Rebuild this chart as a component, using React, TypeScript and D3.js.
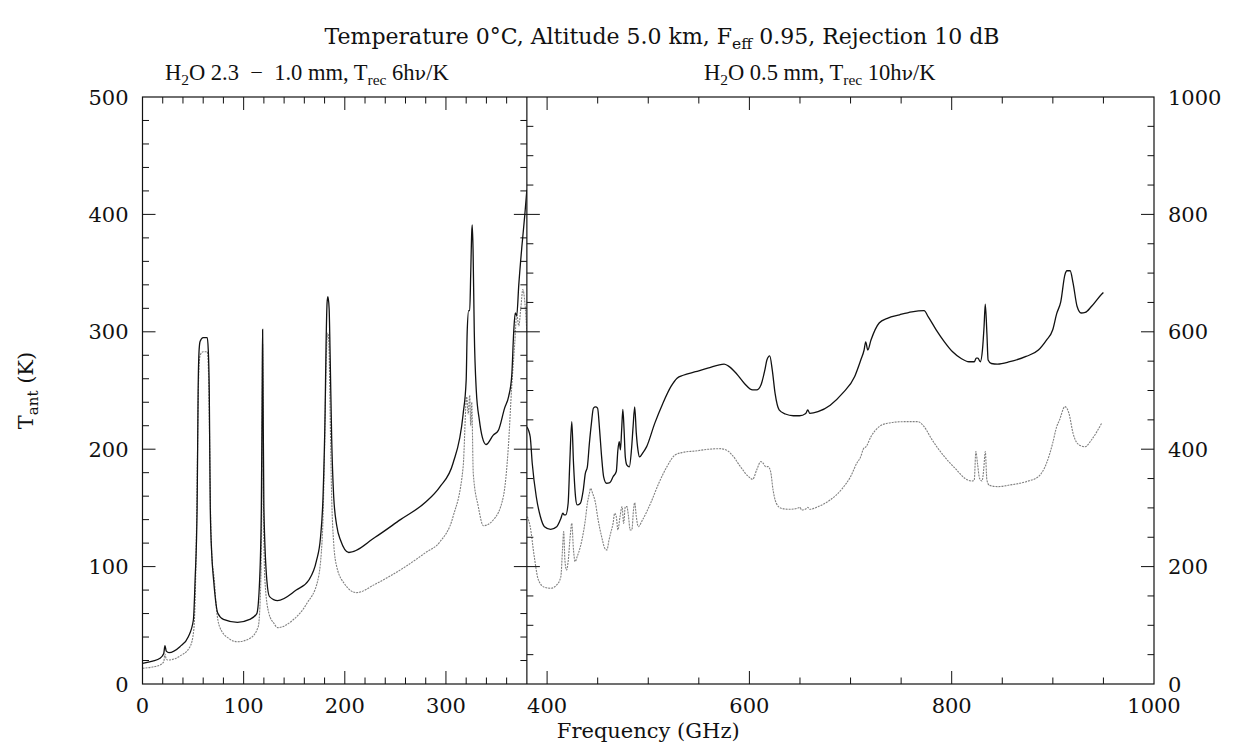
import React from 'react';
import * as d3 from 'd3';

type P = [number, number];

// Left panel (0-380 GHz), left axis units (K)
const leftUpper: P[] = [
  [0, 17.6], [10, 19.5], [17.3, 21.9], [21, 26], [22.2, 32.6], [23.5, 28], [26.2, 26.7], [37, 31.8], [45.3, 40.3],
  [50.3, 54.5], [52, 88.6], [54, 150], [55, 250], [56, 285], [57, 292], [60, 295], [64, 295], [65, 285], [66, 250],
  [67, 150], [68.5, 110], [70.3, 88.6], [74.5, 60.2], [80, 55], [93.9, 52.5], [106, 55], [113, 60], [115.8, 88.6],
  [117.5, 150], [118.4, 260], [118.75, 302], [119.1, 260], [120, 150], [122.9, 88.6], [125.6, 74.4], [133.5, 71],
  [152, 80], [164.5, 88.6], [172, 105], [176, 125], [178.5, 160], [180.5, 230], [181.5, 290], [182.5, 325],
  [183.3, 330], [184.5, 320], [185.5, 280], [187, 210], [189, 160], [192, 135], [196, 122], [204, 112], [230, 125],
  [255, 140], [280, 155], [294, 168], [307, 188], [317, 230], [320, 259], [321, 300], [322.5, 318], [323.5, 318],
  [324.5, 350], [325.5, 385], [326, 391], [326.8, 370], [328, 300], [330, 250], [333, 225], [336, 210], [339.6, 204],
  [346.8, 212], [351.8, 216], [358, 235], [362, 245], [365, 262], [367, 300], [368.5, 316], [370, 314], [372, 340],
  [375, 372], [378, 400], [380, 421]
];
const leftLower: P[] = [
  [0, 13.4], [10, 14.5], [17.3, 16.2], [21, 19], [22.2, 25.5], [23.5, 21], [25.5, 20.4], [37, 23.8], [47, 31.8],
  [50.7, 46], [52.5, 88.6], [54, 170], [55, 240], [56, 272], [57, 280], [60, 283], [64, 283], [65, 272], [66, 230],
  [67, 160], [68.5, 110], [71, 88.6], [73, 65], [76.2, 48.8], [85.1, 38.9], [94, 36], [106.3, 38.9], [114.4, 48.8],
  [117, 88.6], [118, 160], [118.75, 290], [119.5, 160], [121, 88.6], [125, 60], [129.9, 51.7], [133.5, 48],
  [148.7, 54.5], [162.6, 68.7], [173.4, 88.6], [178, 130], [180, 200], [181.5, 270], [182.5, 295], [183.3, 299],
  [184.3, 290], [185.5, 230], [187, 160], [189, 120], [192, 100], [200, 85], [211.5, 77.8], [230, 85], [260, 100],
  [280, 112], [294, 121], [307, 142.5], [317, 185], [320.5, 244.7], [322, 230], [323.5, 246], [324.5, 220],
  [325.5, 240], [327, 179.5], [332, 151], [337, 134.8], [346.8, 139.7], [356.7, 159.5], [361.6, 200.7], [365, 253],
  [368, 290], [370, 315], [372, 305], [374, 320], [376, 336], [378, 325], [380, 300]
];

// Right panel (380-950 GHz), right axis units (K)
const rightUpper: P[] = [
  [380, 438], [383.3, 421], [385.3, 376], [389.3, 319], [393.4, 285], [397.4, 268], [403.5, 263.5], [409.5, 268],
  [413.6, 282], [415.6, 291], [416.8, 288], [418.4, 288], [420.8, 308], [422.4, 376], [424.4, 447], [426.1, 376],
  [428.1, 319], [429.7, 305], [432.9, 308], [435.7, 330], [437.8, 359], [439.8, 370], [441.8, 410], [443.8, 444],
  [445.8, 470], [447.9, 472], [449.9, 470], [451.9, 433], [453.9, 387], [455.9, 353], [458.7, 342], [462, 343],
  [465.2, 353], [468.4, 362], [470, 399], [471.3, 413], [472.5, 399], [473.7, 433], [474.9, 468], [476.1, 433],
  [477.3, 387], [478.9, 373], [481.3, 370], [483.4, 399], [485, 438], [486.6, 472], [488.2, 427], [489.8, 399],
  [491.4, 387], [494.3, 393], [498.3, 404], [506.4, 444], [514.4, 478], [522.5, 507], [528.5, 521], [534.6, 526],
  [546.7, 532], [558.8, 538], [575, 545], [579, 542], [587.1, 529], [595.1, 512], [603.2, 501], [607.2, 501],
  [611.3, 509], [615.3, 535], [617.3, 552], [620.1, 559], [622.6, 535], [625.4, 495], [629.4, 467], [635.5, 460],
  [643.5, 457], [649.6, 457], [655.7, 461], [657.7, 467], [659.7, 461], [667.8, 464], [679.9, 475], [692, 495],
  [704.1, 524], [710.1, 552], [713.4, 569], [715, 583], [717, 569], [720.2, 586], [728.3, 615], [736.4, 623],
  [748.5, 629], [760.6, 634], [772.7, 636], [776.7, 626], [784.8, 603], [792.8, 583], [800.9, 566], [809, 555],
  [817.1, 549], [822.3, 549], [824.3, 555], [825.9, 555], [828.3, 549], [830.4, 569], [832, 609], [833.2, 647],
  [834.8, 597], [836, 552], [839.2, 546], [845.3, 545], [857.4, 549], [873.5, 558], [885.7, 569], [893.7, 586],
  [899.8, 603], [903.8, 631], [907.8, 651], [911.9, 697], [913.9, 704], [917.1, 704], [920, 683], [924, 643],
  [928, 632], [932, 633], [938.1, 643], [948.2, 664], [950, 667]
];
const rightLower: P[] = [
  [380.5, 285.1], [383.3, 268], [387.3, 217], [391.4, 177.2], [397.4, 164.7], [403.5, 163], [409.5, 168.7],
  [413.6, 182.9], [415.2, 228.3], [416.4, 259.5], [417.6, 211.3], [419.2, 194.2], [420.8, 208.4], [422.8, 251],
  [424.4, 273.7], [426.1, 228.3], [427.7, 208.4], [429.7, 217], [432.9, 234], [435.7, 256.7], [437.8, 279.4],
  [439.8, 307.8], [441.8, 324.8], [443, 333.4], [445, 324.8], [447.9, 307.8], [449.9, 285.1], [453.9, 251],
  [457.1, 231.1], [459.1, 228.3], [461.2, 245.3], [462.8, 256.7], [465.2, 273.7], [466.8, 290.8], [468.4, 285.1],
  [470, 262.4], [472.1, 285.1], [474.1, 302.1], [475.7, 273.7], [477.3, 302.1], [478.9, 302.1], [480.5, 285.1],
  [482.1, 262.4], [483.8, 262.4], [485.4, 296.4], [486.6, 308.9], [488.2, 285.1], [490.2, 268], [494.3, 279.4],
  [502.3, 307.8], [510.4, 341.9], [518.5, 370.3], [526.5, 390.1], [534.6, 394.7], [546.7, 397], [558.8, 399.8],
  [570.9, 400.9], [577, 398.7], [583, 390.1], [591.1, 370.3], [599.2, 353.2], [603.2, 348.7], [607.2, 364.6],
  [611.3, 378.8], [613.7, 375.9], [616.1, 370.3], [618.5, 370.3], [621, 361.7], [623.4, 330.5], [626.6, 307.8],
  [631.4, 299.3], [639.5, 297.6], [647.6, 299.3], [650, 301], [651.6, 296.4], [655.7, 298.1], [657.7, 301],
  [659.7, 297.6], [667.8, 302.1], [679.9, 313.5], [692, 333.4], [700, 353.2], [706.1, 375.9], [710.1, 387.3],
  [713, 401.5], [715.4, 404.3], [720.2, 421.4], [728.3, 438.4], [736.4, 444.1], [752.5, 446.9], [766.6, 446.9],
  [772.7, 438.4], [780.7, 415.7], [792.8, 387.3], [804.9, 364.6], [813, 350.4], [820.3, 345.8], [822.3, 347.6],
  [823.9, 395.8], [825.5, 376], [827.5, 350.4], [830, 345.8], [831.6, 364.6], [833.2, 395.8], [834.8, 347.6],
  [837.2, 338.5], [845.3, 336.2], [857.4, 339], [873.5, 344.7], [885.7, 353.2], [893.7, 375.9], [899.8, 410],
  [903.8, 438.4], [906.6, 449.8], [911.9, 472.5], [915.9, 461.1], [920, 427], [926, 407.2], [932, 404.3],
  [938.1, 415.7], [948.2, 444.1]
];

const xLabelsLeft = [0, 100, 200, 300];
const xLabelsRight = [400, 600, 800, 1000];
const yLabelsLeft = [0, 100, 200, 300, 400, 500];
const yLabelsRight = [0, 200, 400, 600, 800, 1000];

const FONT = "'DejaVu Serif', serif";
const SUBFONT = "'Liberation Serif', 'DejaVu Serif', serif";
const NB = '\u00A0';

export default function App() {
  const x = d3.scaleLinear().domain([0, 1000]).range([142.5, 1154]);
  const yL = d3.scaleLinear().domain([0, 500]).range([684, 97]);
  const yR = d3.scaleLinear().domain([0, 1000]).range([684, 97]);
  const lineL = d3.line<P>().x(d => x(d[0])).y(d => yL(d[1])).curve(d3.curveMonotoneX);
  const lineR = d3.line<P>().x(d => x(d[0])).y(d => yR(d[1])).curve(d3.curveMonotoneX);

  const x0 = x(0), x1 = x(1000), xd = x(380);
  const yTop = yL(500), yBot = yL(0);
  const MAJ = 13, MIN = 6.5;

  const ticks: JSX.Element[] = [];
  let k = 0;
  const seg = (ax: number, ay: number, bx: number, by: number) =>
    ticks.push(<line key={k++} x1={ax} y1={ay} x2={bx} y2={by} />);

  d3.range(20, 380, 20).forEach(v => {
    const len = v % 100 === 0 ? MAJ : MIN;
    seg(x(v), yBot, x(v), yBot - len);
    seg(x(v), yTop, x(v), yTop + len);
  });
  d3.range(400, 1000, 50).forEach(v => {
    const len = v % 200 === 0 ? MAJ : MIN;
    seg(x(v), yBot, x(v), yBot - len);
    seg(x(v), yTop, x(v), yTop + len);
  });
  d3.range(20, 500, 20).forEach(v => {
    const len = v % 100 === 0 ? MAJ : MIN;
    seg(x0, yL(v), x0 + len, yL(v));
    seg(xd, yL(v), xd - len, yL(v));
  });
  d3.range(50, 1000, 50).forEach(v => {
    const len = v % 200 === 0 ? MAJ : MIN;
    seg(x1, yR(v), x1 - len, yR(v));
    seg(xd, yR(v), xd + len, yR(v));
  });

  const fs = 21;
  const sub = 15;
  const sfs = 22.5;
  const ssub = 15.5;
  return (
    <svg width={1233} height={748} style={{ position: 'absolute', left: 0, top: 0, background: '#fff' }}
      fontFamily={FONT}>
      <rect x={0} y={0} width={1233} height={748} fill="#fff" />
      <defs>
        <clipPath id="clipL"><rect x={x0} y={yTop} width={xd - x0} height={yBot - yTop} /></clipPath>
        <clipPath id="clipR"><rect x={xd} y={yTop} width={x1 - xd} height={yBot - yTop} /></clipPath>
      </defs>
      {/* title */}
      <text x={662} y={44} textAnchor="middle" fontSize={22} fill="#111">
        Temperature 0°C, Altitude 5.0 km, F<tspan dy={5} fontSize={15.5}>eff</tspan><tspan dy={-5}> 0.95, Rejection 10 dB</tspan>
      </text>
      <g fontFamily={SUBFONT} fontSize={sfs} fill="#111">
        <text x={165} y={80} textAnchor="start">
          H<tspan dy={5} fontSize={ssub}>2</tspan><tspan dy={-5}>O 2.3{NB}{NB}−{NB}{NB}1.0 mm, T</tspan><tspan dy={5} fontSize={ssub}>rec</tspan><tspan dy={-5}> 6h</tspan><tspan fontFamily={FONT} fontSize={19}>ν</tspan><tspan>/K</tspan>
        </text>
        <text x={704} y={80} textAnchor="start">
          H<tspan dy={5} fontSize={ssub}>2</tspan><tspan dy={-5}>O 0.5 mm, T</tspan><tspan dy={5} fontSize={ssub}>rec</tspan><tspan dy={-5}> 10h</tspan><tspan fontFamily={FONT} fontSize={19}>ν</tspan><tspan>/K</tspan>
        </text>
      </g>

      <g fill="none" clipPath="url(#clipL)">
        <path d={lineL(leftLower) || ''} stroke="#808080" strokeWidth={1.1} strokeDasharray="2,1" />
        <path d={lineL(leftUpper) || ''} stroke="#111" strokeWidth={1.3} />
      </g>
      <g fill="none" clipPath="url(#clipR)">
        <path d={lineR(rightLower) || ''} stroke="#808080" strokeWidth={1.1} strokeDasharray="2,1" />
        <path d={lineR(rightUpper) || ''} stroke="#111" strokeWidth={1.3} />
      </g>

      <g stroke="#111" strokeWidth={1.2} fill="none">
        <rect x={x0} y={yTop} width={x1 - x0} height={yBot - yTop} />
        <line x1={xd} y1={yTop} x2={xd} y2={yBot} />
      </g>
      <g stroke="#111" strokeWidth={1}>{ticks}</g>

      <g fontSize={fs} fill="#111">
        {xLabelsLeft.concat(xLabelsRight).map(v => (
          <text key={'xl' + v} x={x(v)} y={713} textAnchor="middle">{v}</text>
        ))}
        {yLabelsLeft.map(v => (
          <text key={'yl' + v} x={x0 - 14} y={yL(v) + 7.5} textAnchor="end">{v}</text>
        ))}
        {yLabelsRight.map(v => (
          <text key={'yr' + v} x={x1 + 14} y={yR(v) + 7.5} textAnchor="start">{v}</text>
        ))}
      </g>

      <text x={(x0 + x1) / 2} y={738} textAnchor="middle" fontSize={fs} fill="#111">Frequency (GHz)</text>
      <text transform={`translate(33, ${(yTop + yBot) / 2}) rotate(-90)`} textAnchor="middle" fontSize={fs} fill="#111">
        T<tspan dy={5} fontSize={sub}>ant</tspan><tspan dy={-5}> (K)</tspan>
      </text>
    </svg>
  );
}
